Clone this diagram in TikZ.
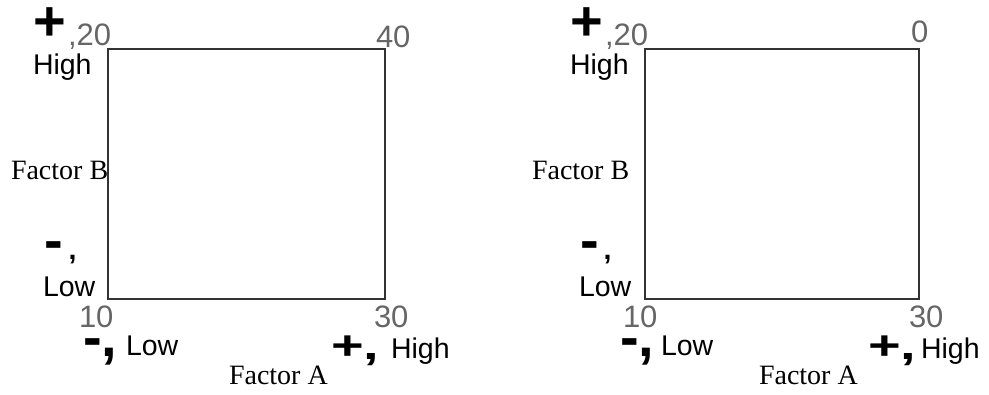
\documentclass[tikz,border=0pt]{standalone}
\usepackage{fontspec}
\usepackage{graphicx}
\setmainfont{Liberation Serif}
\newfontfamily\arialf{Liberation Sans}
\newcommand{\bigsym}{\arialf\bfseries\fontsize{56}{60}\selectfont}
\newcommand{\lbl}{\arialf\fontsize{28.5}{32}\selectfont}
\newcommand{\numf}{\arialf\fontsize{31}{34}\selectfont\color{black!60}}
\newcommand{\facf}{\rmfamily\fontsize{28}{32}\selectfont}
\begin{document}
\begin{tikzpicture}[x=1pt,y=-1pt,
  txt/.style={inner sep=0pt,outer sep=0pt,anchor=base west},
  frame/.style={draw=black!80,line width=1.6pt}]
\useasboundingbox (0,0) rectangle (989,394);
% ---------- left panel ----------
\draw[frame] (108,49) rectangle (385,299);
\node[txt] (Lplus)  at (34,40)   {\bigsym +};
\node[txt] (L20)    at (68,45)   {\numf ,20};
\node[txt] (Lhigh)  at (33,74)   {\lbl High};
\node[txt] (Lfb)    at (11,179)  {\facf Factor B};
\node[txt] (Lminus) at (45,259)  {\bigsym -\kern5pt\lbl ,};
\node[txt] (Llow)   at (43,296)  {\lbl Low};
\node[txt] (L10)    at (79,327)  {\numf 10};
\node[txt] (L30)    at (374,327) {\numf 30};
\node[txt] (L40)    at (376,47)  {\numf 40};
\node[txt] (Lbm)    at (83,356)  {\bigsym -,};
\node[txt] (Lblow)  at (126,355) {\lbl Low};
\node[txt] (Lbp)    at (331,359) {\scalebox{1}[0.72]{\bigsym +,}};
\node[txt] (Lbhigh) at (391,358) {\lbl High};
\node[txt] (Lfa)    at (229,384) {\facf Factor A};
% ---------- right panel ----------
\draw[frame] (645,49) rectangle (919,299);
\node[txt] (Rplus)  at (570,40)   {\bigsym +};
\node[txt] (R20)    at (605,45)   {\numf ,20};
\node[txt] (Rhigh)  at (570,74)   {\lbl High};
\node[txt] (Rfb)    at (532,179)  {\facf Factor B};
\node[txt] (Rminus) at (580,259)  {\bigsym -\kern5pt\lbl ,};
\node[txt] (Rlow)   at (579,296)  {\lbl Low};
\node[txt] (R10)    at (623,327)  {\numf 10};
\node[txt] (R30)    at (909,327)  {\numf 30};
\node[txt] (R0)     at (911,42)   {\numf 0};
\node[txt] (Rbm)    at (620,356)  {\bigsym -,};
\node[txt] (Rblow)  at (661,355)  {\lbl Low};
\node[txt] (Rbp)    at (868,359)  {\scalebox{1}[0.72]{\bigsym +,}};
\node[txt] (Rbhigh) at (921,358)  {\lbl High};
\node[txt] (Rfa)    at (759,384)  {\facf Factor A};
\end{tikzpicture}
\end{document}
